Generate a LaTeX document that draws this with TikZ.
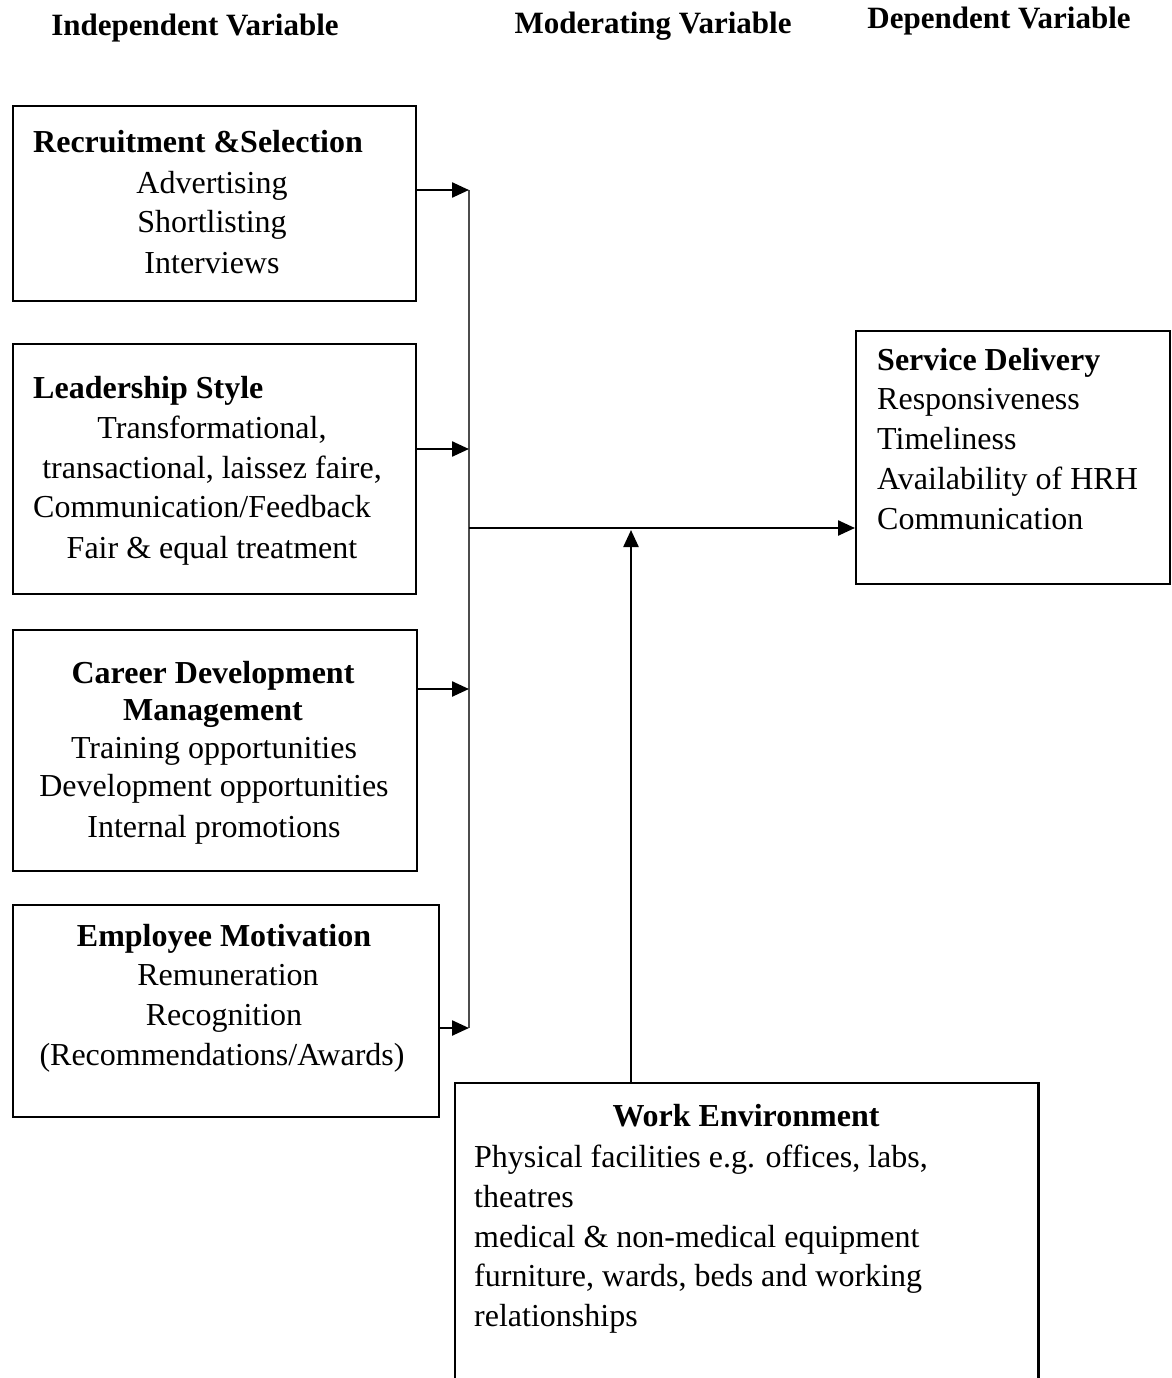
\documentclass[tikz,border=0pt]{standalone}
\usepackage{fontspec}
\setmainfont{Liberation Serif}
\usetikzlibrary{arrows.meta}
\tikzset{
  boxst/.style={draw, line width=2.4pt, rectangle, inner sep=0pt},
  plainbox/.style={rectangle, inner sep=0pt},
  txt/.style={inner sep=0pt, anchor=base, font=\fontsize{32}{40}\selectfont},
  txtl/.style={inner sep=0pt, anchor=base west, font=\fontsize{32}{40}\selectfont},
  hdr/.style={inner sep=0pt, anchor=base, font=\fontsize{31}{38}\selectfont\bfseries},
  arr/.style={line width=2.4pt, -{Triangle[length=17pt,width=15pt]}},
  busst/.style={line width=1.6pt, draw=black!70},
  lin/.style={line width=2.4pt}
}
\begin{document}
\begin{tikzpicture}[x=1pt,y=-1pt]
\useasboundingbox (0,0) rectangle (1171,1378);
\fill[white] (0,0) rectangle (1171,1378);

% headers
\node[hdr] (h1) at (195,36) {Independent Variable};
\node[hdr] (h2) at (653,34) {Moderating Variable};
\node[hdr] (h3) at (999,29) {Dependent Variable};

% boxes (corner to corner)
\node[boxst, minimum width=403pt, minimum height=195pt, anchor=north west] (rs) at (12,105) {};
\node[boxst, minimum width=403pt, minimum height=250pt, anchor=north west] (ls) at (12,343) {};
\node[boxst, minimum width=404pt, minimum height=241pt, anchor=north west] (cd) at (12,629) {};
\node[boxst, minimum width=426pt, minimum height=212pt, anchor=north west] (em) at (12,904) {};
\node[boxst, minimum width=314pt, minimum height=253pt, anchor=north west] (sd) at (855,330) {};
\node[plainbox, minimum width=583pt, minimum height=300pt, anchor=north west] (we) at (455,1083) {};
\draw[lin] (we.south west) -- (we.north west) -- (we.north east) -- (we.south east);

% Recruitment & Selection
\node[txtl] (rs0) at (33,153) {\textbf{Recruitment \&Selection}};
\node[txt] (rs1) at (212,193) {Advertising};
\node[txt] (rs2) at (212,232) {Shortlisting};
\node[txt] (rs3) at (212,273) {Interviews};

% Leadership Style
\node[txtl] (ls0) at (33,398) {\textbf{Leadership Style}};
\node[txt] (ls1) at (212,438) {Transformational,};
\node[txt] (ls2) at (212,478) {transactional, laissez faire,};
\node[txtl] (ls3) at (33,517) {Communication/Feedback};
\node[txt] (ls4) at (212,558) {Fair \& equal treatment};

% Career Development Management
\node[txt] (cd0) at (213,683) {\textbf{Career Development}};
\node[txt] (cd1) at (213,720) {\textbf{Management}};
\node[txt] (cd2) at (214,758) {Training opportunities};
\node[txt] (cd3) at (214,796) {Development opportunities};
\node[txt] (cd4) at (214,837) {Internal promotions};

% Employee Motivation
\node[txt] (em0) at (224,946) {\textbf{Employee Motivation}};
\node[txt] (em1) at (228,985) {Remuneration};
\node[txt] (em2) at (224,1025) {Recognition};
\node[txt] (em3) at (222,1065) {(Recommendations/Awards)};

% Service Delivery
\node[txtl] (sd0) at (877,370) {\textbf{Service Delivery}};
\node[txtl] (sd1) at (877,409) {Responsiveness};
\node[txtl] (sd2) at (877,449) {Timeliness};
\node[txtl] (sd3) at (877,489) {Availability of HRH};
\node[txtl] (sd4) at (877,529) {Communication};

% Work Environment
\node[txt] (we0) at (746,1126) {\textbf{Work Environment}};
\node[txtl] (we1) at (474,1167) {Physical facilities e.g. offices, labs,};
\node[txtl] (we2) at (474,1207) {theatres};
\node[txtl] (we3) at (474,1247) {medical \& non-medical equipment};
\node[txtl] (we4) at (474,1286) {furniture, wards, beds and working};
\node[txtl] (we5) at (474,1326) {relationships};

% bus coordinates
\coordinate (b1) at (469,190);
\coordinate (b2) at (469,449);
\coordinate (b3) at (469,689);
\coordinate (b4) at (469,1028);
\coordinate (j) at (469,528);
\coordinate (m) at (631,530);

\draw[busst] (b1) -- (b4);
\draw[arr] (b1 -| rs.east) -- (b1);
\draw[arr] (b2 -| ls.east) -- (b2);
\draw[arr] (b3 -| cd.east) -- (b3);
\draw[arr] (b4 -| em.east) -- (b4);
\draw[arr] (j) -- (j -| sd.west);
\draw[arr] (m |- we.north) -- (m);
\end{tikzpicture}
\end{document}
